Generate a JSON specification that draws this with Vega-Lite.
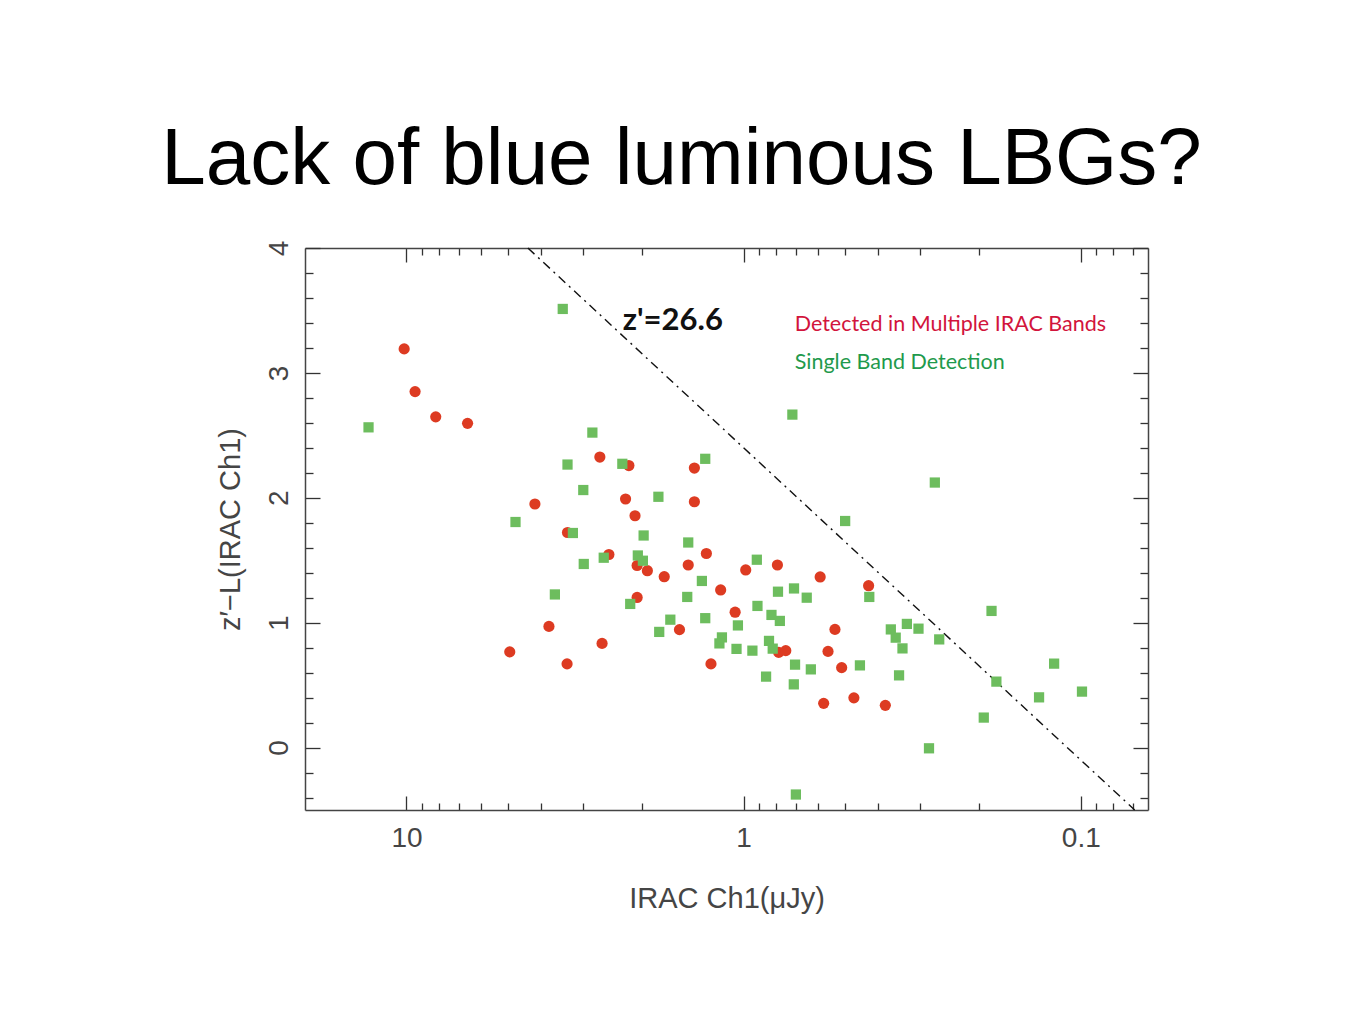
{
  "$schema": "https://vega.github.io/schema/vega-lite/v6.json",
  "width": 843,
  "height": 562,
  "autosize": "none",
  "padding": {"left": 305, "top": 248, "right": 217, "bottom": 214},
  "background": "white",
  "title": {"text": "Lack of blue luminous LBGs?", "fontSize": 80, "font": "Liberation Sans", "fontWeight": "normal", "color": "#000000", "anchor": "middle", "dx": -45, "offset": -24, "baseline": "alphabetic"},
  "config": {
    "view": {"stroke": null},
    "axis": {"domainColor": "#444444", "domainWidth": 1.5, "tickColor": "#333333", "tickWidth": 1.3, "labelFont": "Liberation Sans", "titleFont": "Liberation Sans", "labelColor": "#454545", "titleColor": "#454545", "labelFontSize": 28, "titleFontSize": 29, "titleFontWeight": "normal", "grid": false, "labelOverlap": false, "labelBound": false, "labelFlush": false}
  },
  "datasets": {
    "line": [{"flux": 4.365, "zL": 4.0}, {"flux": 0.0692, "zL": -0.5}],
    "points": [
      {"flux": 10.16, "zL": 3.192, "group": "multi"},
      {"flux": 9.43, "zL": 2.850, "group": "multi"},
      {"flux": 8.19, "zL": 2.648, "group": "multi"},
      {"flux": 6.59, "zL": 2.596, "group": "multi"},
      {"flux": 4.94, "zL": 0.766, "group": "multi"},
      {"flux": 3.78, "zL": 0.970, "group": "multi"},
      {"flux": 3.34, "zL": 0.670, "group": "multi"},
      {"flux": 4.16, "zL": 1.950, "group": "multi"},
      {"flux": 3.33, "zL": 1.722, "group": "multi"},
      {"flux": 2.67, "zL": 2.326, "group": "multi"},
      {"flux": 2.63, "zL": 0.834, "group": "multi"},
      {"flux": 2.51, "zL": 1.546, "group": "multi"},
      {"flux": 2.19, "zL": 2.258, "group": "multi"},
      {"flux": 2.24, "zL": 1.990, "group": "multi"},
      {"flux": 2.10, "zL": 1.856, "group": "multi"},
      {"flux": 2.07, "zL": 1.458, "group": "multi"},
      {"flux": 2.07, "zL": 1.202, "group": "multi"},
      {"flux": 1.93, "zL": 1.416, "group": "multi"},
      {"flux": 1.72, "zL": 1.368, "group": "multi"},
      {"flux": 1.55, "zL": 0.944, "group": "multi"},
      {"flux": 1.46, "zL": 1.462, "group": "multi"},
      {"flux": 1.40, "zL": 2.238, "group": "multi"},
      {"flux": 1.40, "zL": 1.968, "group": "multi"},
      {"flux": 1.29, "zL": 1.554, "group": "multi"},
      {"flux": 1.25, "zL": 0.670, "group": "multi"},
      {"flux": 1.17, "zL": 1.262, "group": "multi"},
      {"flux": 1.06, "zL": 1.084, "group": "multi"},
      {"flux": 0.986, "zL": 1.422, "group": "multi"},
      {"flux": 0.794, "zL": 1.462, "group": "multi"},
      {"flux": 0.787, "zL": 0.762, "group": "multi"},
      {"flux": 0.750, "zL": 0.776, "group": "multi"},
      {"flux": 0.593, "zL": 1.366, "group": "multi"},
      {"flux": 0.562, "zL": 0.770, "group": "multi"},
      {"flux": 0.536, "zL": 0.946, "group": "multi"},
      {"flux": 0.512, "zL": 0.640, "group": "multi"},
      {"flux": 0.579, "zL": 0.354, "group": "multi"},
      {"flux": 0.471, "zL": 0.398, "group": "multi"},
      {"flux": 0.426, "zL": 1.296, "group": "multi"},
      {"flux": 0.380, "zL": 0.338, "group": "multi"},
      {"flux": 12.96, "zL": 2.564, "group": "single"},
      {"flux": 3.44, "zL": 3.512, "group": "single"},
      {"flux": 0.717, "zL": 2.666, "group": "single"},
      {"flux": 2.81, "zL": 2.522, "group": "single"},
      {"flux": 3.33, "zL": 2.266, "group": "single"},
      {"flux": 2.29, "zL": 2.272, "group": "single"},
      {"flux": 1.30, "zL": 2.312, "group": "single"},
      {"flux": 2.99, "zL": 2.062, "group": "single"},
      {"flux": 1.79, "zL": 2.008, "group": "single"},
      {"flux": 4.75, "zL": 1.806, "group": "single"},
      {"flux": 3.21, "zL": 1.718, "group": "single"},
      {"flux": 1.98, "zL": 1.698, "group": "single"},
      {"flux": 1.46, "zL": 1.642, "group": "single"},
      {"flux": 2.60, "zL": 1.520, "group": "single"},
      {"flux": 2.06, "zL": 1.538, "group": "single"},
      {"flux": 1.99, "zL": 1.496, "group": "single"},
      {"flux": 2.98, "zL": 1.470, "group": "single"},
      {"flux": 3.63, "zL": 1.226, "group": "single"},
      {"flux": 0.914, "zL": 1.504, "group": "single"},
      {"flux": 0.500, "zL": 1.814, "group": "single"},
      {"flux": 0.424, "zL": 1.206, "group": "single"},
      {"flux": 1.33, "zL": 1.334, "group": "single"},
      {"flux": 0.791, "zL": 1.248, "group": "single"},
      {"flux": 0.709, "zL": 1.274, "group": "single"},
      {"flux": 0.650, "zL": 1.200, "group": "single"},
      {"flux": 1.47, "zL": 1.206, "group": "single"},
      {"flux": 2.17, "zL": 1.150, "group": "single"},
      {"flux": 0.910, "zL": 1.134, "group": "single"},
      {"flux": 0.827, "zL": 1.062, "group": "single"},
      {"flux": 0.781, "zL": 1.014, "group": "single"},
      {"flux": 1.65, "zL": 1.024, "group": "single"},
      {"flux": 1.30, "zL": 1.036, "group": "single"},
      {"flux": 1.04, "zL": 0.978, "group": "single"},
      {"flux": 1.16, "zL": 0.882, "group": "single"},
      {"flux": 1.18, "zL": 0.834, "group": "single"},
      {"flux": 1.78, "zL": 0.926, "group": "single"},
      {"flux": 1.05, "zL": 0.790, "group": "single"},
      {"flux": 0.942, "zL": 0.776, "group": "single"},
      {"flux": 0.841, "zL": 0.854, "group": "single"},
      {"flux": 0.820, "zL": 0.792, "group": "single"},
      {"flux": 0.704, "zL": 0.664, "group": "single"},
      {"flux": 0.632, "zL": 0.626, "group": "single"},
      {"flux": 0.452, "zL": 0.658, "group": "single"},
      {"flux": 0.858, "zL": 0.568, "group": "single"},
      {"flux": 0.710, "zL": 0.506, "group": "single"},
      {"flux": 0.700, "zL": -0.376, "group": "single"},
      {"flux": 0.366, "zL": 0.946, "group": "single"},
      {"flux": 0.328, "zL": 0.990, "group": "single"},
      {"flux": 0.303, "zL": 0.952, "group": "single"},
      {"flux": 0.354, "zL": 0.880, "group": "single"},
      {"flux": 0.338, "zL": 0.794, "group": "single"},
      {"flux": 0.263, "zL": 0.866, "group": "single"},
      {"flux": 0.346, "zL": 0.578, "group": "single"},
      {"flux": 0.282, "zL": -0.006, "group": "single"},
      {"flux": 0.271, "zL": 2.122, "group": "single"},
      {"flux": 0.184, "zL": 1.094, "group": "single"},
      {"flux": 0.178, "zL": 0.528, "group": "single"},
      {"flux": 0.194, "zL": 0.240, "group": "single"},
      {"flux": 0.133, "zL": 0.402, "group": "single"},
      {"flux": 0.120, "zL": 0.672, "group": "single"},
      {"flux": 0.0992, "zL": 0.448, "group": "single"}
    ],
    "limitLabel": [{"text": "z'=26.6", "flux": 2.283, "zL": 3.344}],
    "multiLabel": [{"text": "Detected in Multiple IRAC Bands", "flux": 0.7056, "zL": 3.336}],
    "singleLabel": [{"text": "Single Band Detection", "flux": 0.7056, "zL": 3.032}]
  },
  "layer": [
    {
      "data": {"name": "line"},
      "mark": {"type": "line", "color": "#111111", "strokeWidth": 1.4, "strokeDash": [9, 5, 2, 5]},
      "encoding": {
        "x": {"field": "flux", "type": "quantitative",
          "scale": {"type": "log", "domain": [0.0632, 20], "reverse": true, "nice": false},
          "axis": {"orient": "bottom", "title": "IRAC Ch1(μJy)", "titlePadding": 25,
            "values": [0.07, 0.08, 0.09, 0.1, 0.2, 0.3, 0.4, 0.5, 0.6, 0.7, 0.8, 0.9, 1, 2, 3, 4, 5, 6, 7, 8, 9, 10],
            "labelExpr": "datum.value == 10 ? '10' : datum.value == 1 ? '1' : datum.value == 0.1 ? '0.1' : ''",
            "tickSize": {"condition": {"test": "datum.value == 0.1 || datum.value == 1 || datum.value == 10", "value": -14}, "value": -7},
            "labelPadding": 28}},
        "y": {"field": "zL", "type": "quantitative",
          "scale": {"domain": [-0.5, 4], "nice": false, "zero": false},
          "axis": {"orient": "left", "title": "z′−L(IRAC Ch1)", "titlePadding": 13,
            "values": [-0.4, -0.2, 0, 0.2, 0.4, 0.6, 0.8, 1, 1.2, 1.4, 1.6, 1.8, 2, 2.2, 2.4, 2.6, 2.8, 3, 3.2, 3.4, 3.6, 3.8, 4],
            "labelExpr": "datum.value % 1 == 0 ? format(datum.value, 'd') : ''",
            "labelAngle": -90, "labelAlign": "center", "labelBaseline": "alphabetic",
            "tickSize": {"condition": {"test": "datum.value % 1 == 0", "value": -15}, "value": -8},
            "labelPadding": 33}}
      }
    },
    {
      "data": {"name": "points"},
      "mark": {"type": "point", "filled": true, "opacity": 1},
      "encoding": {
        "x": {"field": "flux", "type": "quantitative",
          "axis": {"orient": "top", "title": null, "labels": false,
            "values": [0.07, 0.08, 0.09, 0.1, 0.2, 0.3, 0.4, 0.5, 0.6, 0.7, 0.8, 0.9, 1, 2, 3, 4, 5, 6, 7, 8, 9, 10],
            "tickSize": {"condition": {"test": "datum.value == 0.1 || datum.value == 1 || datum.value == 10", "value": -14}, "value": -7}}},
        "y": {"field": "zL", "type": "quantitative",
          "axis": {"orient": "right", "title": null, "labels": false,
            "values": [-0.4, -0.2, 0, 0.2, 0.4, 0.6, 0.8, 1, 1.2, 1.4, 1.6, 1.8, 2, 2.2, 2.4, 2.6, 2.8, 3, 3.2, 3.4, 3.6, 3.8, 4],
            "tickSize": {"condition": {"test": "datum.value % 1 == 0", "value": -15}, "value": -8}}},
        "shape": {"field": "group", "type": "nominal", "scale": {"domain": ["multi", "single"], "range": ["circle", "square"]}, "legend": null},
        "color": {"field": "group", "type": "nominal", "scale": {"domain": ["multi", "single"], "range": ["#dd3b22", "#6dbd5e"]}, "legend": null},
        "size": {"field": "group", "type": "nominal", "scale": {"domain": ["multi", "single"], "range": [125, 105]}, "legend": null}
      }
    },
    {
      "data": {"name": "limitLabel"},
      "mark": {"type": "text", "align": "left", "baseline": "alphabetic", "font": "Lato", "fontWeight": "bold", "fontSize": 31, "color": "#111111"},
      "encoding": {
        "x": {"field": "flux", "type": "quantitative", "axis": null},
        "y": {"field": "zL", "type": "quantitative", "axis": null},
        "text": {"field": "text"}
      }
    },
    {
      "data": {"name": "multiLabel"},
      "mark": {"type": "text", "align": "left", "baseline": "alphabetic", "font": "Lato", "fontSize": 21.5, "color": "#d2143c"},
      "encoding": {
        "x": {"field": "flux", "type": "quantitative", "axis": null},
        "y": {"field": "zL", "type": "quantitative", "axis": null},
        "text": {"field": "text"}
      }
    },
    {
      "data": {"name": "singleLabel"},
      "mark": {"type": "text", "align": "left", "baseline": "alphabetic", "font": "Lato", "fontSize": 21.5, "color": "#1f9a4c"},
      "encoding": {
        "x": {"field": "flux", "type": "quantitative", "axis": null},
        "y": {"field": "zL", "type": "quantitative", "axis": null},
        "text": {"field": "text"}
      }
    }
  ],
  "resolve": {"axis": {"x": "independent", "y": "independent"}}
}
